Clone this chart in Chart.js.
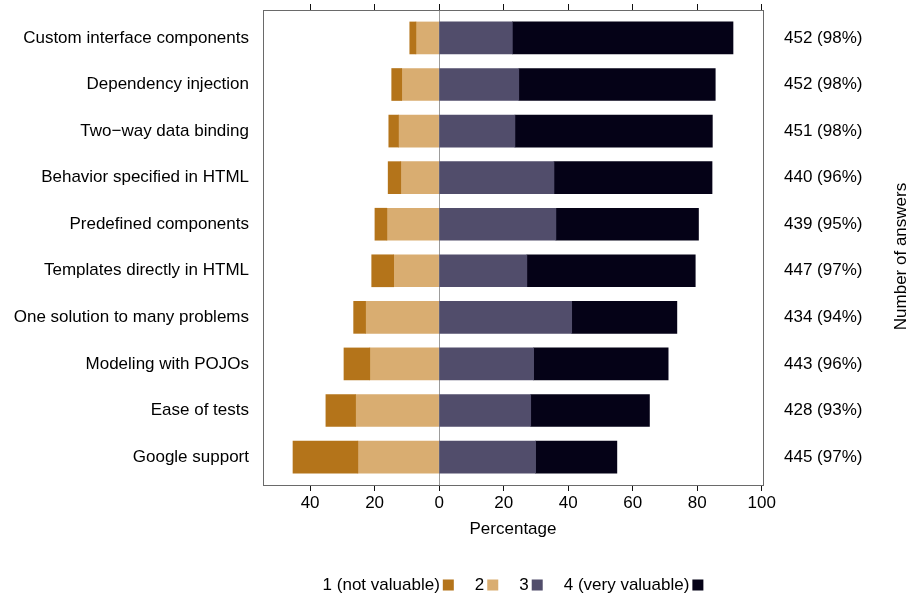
<!DOCTYPE html>
<html><head><meta charset="utf-8">
<script src="https://cdn.jsdelivr.net/npm/chart.js@4.4.1/dist/chart.umd.min.js"></script>
<style>html,body{margin:0;padding:0;background:#fff;overflow:hidden}</style>
</head><body>
<canvas id="c" width="911" height="596"></canvas>
<script>
const categories = [
  'Custom interface components',
  'Dependency injection',
  'Two\u2212way data binding',
  'Behavior specified in HTML',
  'Predefined components',
  'Templates directly in HTML',
  'One solution to many problems',
  'Modeling with POJOs',
  'Ease of tests',
  'Google support'
];
const notValuable  = [1.9, 3.1, 3.0, 3.9, 3.7, 6.8, 3.7, 8.0, 9.2, 20.1];
const level2       = [7.2, 11.6, 12.6, 11.9, 16.2, 14.1, 22.8, 21.5, 25.9, 25.2];
const level3       = [22.7, 24.7, 23.5, 35.6, 36.2, 27.2, 41.1, 29.3, 28.4, 29.9];
const veryValuable = [68.4, 60.9, 61.2, 49.0, 44.2, 52.2, 32.6, 41.7, 36.8, 25.2];
const answerCounts   = [452, 452, 451, 440, 439, 447, 434, 443, 428, 445];
const answerPercents = [98, 98, 98, 96, 95, 97, 94, 96, 93, 97];
const xTickValues = [-40, -20, 0, 20, 40, 60, 80, 100];
const seriesLabels = ['1 (not valuable)', '2', '3', '4 (very valuable)'];
const seriesColors = ['#B4741A', '#D9AD71', '#514D6B', '#050217'];

const FONT = "'Liberation Sans', Arial, Helvetica, sans-serif";
Chart.defaults.font.family = FONT;
Chart.defaults.font.size = 17;
Chart.defaults.color = '#000';

const rowTicks = s => { s.ticks = categories.map((_, i) => ({ value: i + 1 })); };
const xTicks = s => { s.ticks = xTickValues.map(v => ({ value: v })); };
const fitTo = (dim, size) => s => {
  s[dim] = size;
  s.paddingTop = 0; s.paddingBottom = 0; s.paddingLeft = 0; s.paddingRight = 0;
};

function seg(fn) { return categories.map((_, i) => ({ y: i + 1, x: fn(i) })); }

const datasets = [
  { label: seriesLabels[0], data: seg(i => [-(notValuable[i] + level2[i]), -level2[i]]) },
  { label: seriesLabels[1], data: seg(i => [-level2[i], 0]) },
  { label: seriesLabels[2], data: seg(i => [0, level3[i]]) },
  { label: seriesLabels[3], data: seg(i => [level3[i], level3[i] + veryValuable[i]]) }
].map((d, k) => Object.assign(d, {
  backgroundColor: seriesColors[k], borderWidth: 0, grouped: false, barThickness: 32
}));

const customText = {
  id: 'customText',
  afterDraw(chart) {
    const { ctx, chartArea } = chart;
    ctx.save();
    ctx.font = '17px ' + FONT;
    ctx.fillStyle = '#000';
    // right axis title (reads bottom to top)
    ctx.save();
    ctx.translate(chartArea.right + 138, (chartArea.top + chartArea.bottom) / 2 + 9);
    ctx.rotate(-Math.PI / 2);
    ctx.textAlign = 'center';
    ctx.textBaseline = 'middle';
    ctx.fillText('Number of answers', 0, 0);
    ctx.restore();
    // legend: text then box
    const box = 11, gapTB = 3, gapItem = 21;
    const widths = seriesLabels.map(t => ctx.measureText(t).width);
    let total = 0;
    widths.forEach((w, k) => { total += w + gapTB + box + (k < widths.length - 1 ? gapItem : 0); });
    let x = (chartArea.left + chartArea.right) / 2 - total / 2;
    const cy = 585;
    ctx.textAlign = 'left';
    ctx.textBaseline = 'middle';
    seriesLabels.forEach((t, k) => {
      ctx.fillStyle = '#000';
      ctx.fillText(t, x, cy);
      x += widths[k] + gapTB;
      ctx.fillStyle = seriesColors[k];
      ctx.fillRect(x, cy - box / 2, box, box);
      x += box + gapItem;
    });
    ctx.restore();
  }
};

new Chart(document.getElementById('c'), {
  type: 'bar',
  data: { datasets },
  plugins: [customText],
  options: {
    indexAxis: 'y',
    responsive: false,
    animation: false,
    layout: { padding: 0 },
    plugins: { legend: { display: false }, tooltip: { enabled: false } },
    scales: {
      x: {
        type: 'linear', position: 'bottom', min: -54.6, max: 100.4, offset: false,
        afterBuildTicks: xTicks,
        afterFit: fitTo('height', 111),
        ticks: { callback: v => String(Math.abs(v)), padding: 2, autoSkip: false, maxRotation: 0 },
        grid: {
          offset: false,
          color: c => (c.tick && c.tick.value === 0) ? '#9c9c9c' : 'rgba(0,0,0,0)',
          tickColor: '#111', tickLength: 6, lineWidth: 1
        },
        border: { color: '#6a6a6a', width: 1 },
        title: { display: true, text: 'Percentage', padding: { top: 0, bottom: 56 } }
      },
      x2: {
        type: 'linear', position: 'top', min: -54.6, max: 100.4, offset: false,
        afterBuildTicks: xTicks,
        afterFit: fitTo('height', 10),
        ticks: { display: false },
        grid: { offset: false, drawOnChartArea: false, color: 'rgba(0,0,0,0)', tickColor: '#111', tickLength: 6 },
        border: { color: '#6a6a6a', width: 1 }
      },
      y: {
        type: 'linear', position: 'left', reverse: true, min: 0.4, max: 10.6, offset: false,
        afterBuildTicks: rowTicks,
        afterFit: fitTo('width', 263),
        ticks: { callback: v => categories[v - 1], padding: 14, autoSkip: false },
        grid: { offset: false, display: false, drawTicks: false },
        border: { color: '#6a6a6a', width: 1 }
      },
      y2: {
        type: 'linear', position: 'right', reverse: true, min: 0.4, max: 10.6, offset: false,
        afterBuildTicks: rowTicks,
        afterFit: fitTo('width', 148),
        ticks: { callback: v => answerCounts[v - 1] + ' (' + answerPercents[v - 1] + '%)', padding: 21, autoSkip: false },
        grid: { offset: false, display: false, drawTicks: false },
        border: { color: '#6a6a6a', width: 1 }
      }
    }
  }
});
</script>
</body></html>
